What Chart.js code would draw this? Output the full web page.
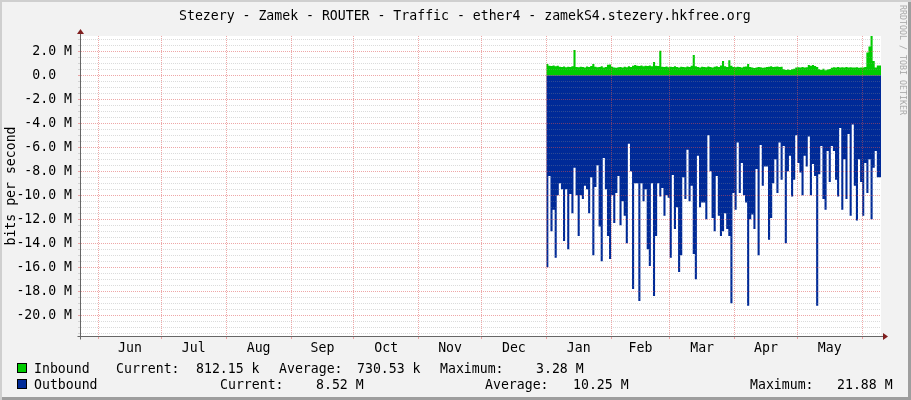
<!DOCTYPE html>
<html lang="en">
<head>
<meta charset="UTF-8">
<title>Stezery - Zamek - ROUTER - Traffic - ether4</title>
<script src="https://cdn.jsdelivr.net/npm/chart.js"></script>
<style>
  body { margin: 0; background: #fff; }
  #graph {
    position: relative; width: 911px; height: 400px; overflow: hidden;
    background: #F2F2F2;
    box-shadow: inset 2px 2px 0 #CFCFCF, inset -3px -3px 0 #9E9E9E;
    font-family: "DejaVu Sans Mono", monospace; font-size: 13.2px; line-height: 13.2px; color: #000;
  }
  #graph canvas { position: absolute; left: 0; top: 0; }
  .txt { position: absolute; white-space: pre; }
  .box { position: absolute; width: 8px; height: 8px; border: 1px solid #000; }
  #mark {
    position: absolute; left: 907px; top: 5px; white-space: pre;
    font-size: 8.3px; line-height: 8.3px; color: #A8A8A8;
    transform-origin: 0 0; transform: rotate(90deg);
  }
</style>
</head>
<body>
<div id="graph">
  <canvas id="chart" width="911" height="400"></canvas>

  <div class="txt" style="left:179px; top:9px;">Stezery - Zamek - ROUTER - Traffic - ether4 - zamekS4.stezery.hkfree.org</div>
  <div id="mark">RRDTOOL / TOBI OETIKER</div>

  <!-- legend -->
  <div class="box" style="left:17px; top:363px; background:#00CC00;"></div>
  <div class="txt" style="left:34px; top:362px;">Inbound</div>
  <div class="txt" style="left:116px; top:362px;">Current:</div>
  <div class="txt" style="left:196px; top:362px;">812.15 k</div>
  <div class="txt" style="left:279px; top:362px;">Average:</div>
  <div class="txt" style="left:357px; top:362px;">730.53 k</div>
  <div class="txt" style="left:440px; top:362px;">Maximum:</div>
  <div class="txt" style="left:536px; top:362px;">3.28 M</div>

  <div class="box" style="left:17px; top:379px; background:#002A97;"></div>
  <div class="txt" style="left:34px; top:378px;">Outbound</div>
  <div class="txt" style="left:220px; top:378px;">Current:</div>
  <div class="txt" style="left:316px; top:378px;">8.52 M</div>
  <div class="txt" style="left:485px; top:378px;">Average:</div>
  <div class="txt" style="left:573px; top:378px;">10.25 M</div>
  <div class="txt" style="left:750px; top:378px;">Maximum:</div>
  <div class="txt" style="left:837px; top:378px;">21.88 M</div>
</div>

<script>
  // x axis is in days counted from 1 Jan (negative = previous year)
  const monthStarts = [-214, -184, -153, -122, -92, -61, -31, 0, 31, 59, 90, 120, 151];
  const monthLabels = ["Jun", "Jul", "Aug", "Sep", "Oct", "Nov", "Dec", "Jan", "Feb", "Mar", "Apr", "May"];
  const xRange = [-222.4, 160.0];
  const yRange = [-21.725, 3.275];   // M bits per second
  const firstDay = 0;                // data starts on 1 Jan

  // daily values, M bits per second
  const inbound = [
    0.55, 0.95, 0.80, 0.78, 0.82, 0.75, 0.80, 0.72, 0.70, 0.74,
    0.68, 0.72, 0.70, 0.76, 2.10, 0.70, 0.68, 0.72, 0.70, 0.66,
    0.74, 0.70, 0.78, 0.95, 0.72, 0.68, 0.70, 0.75, 0.66, 0.70,
    0.88, 0.90, 0.72, 0.66, 0.62, 0.68, 0.70, 0.66, 0.72, 0.68,
    0.75, 0.70, 0.80, 0.85, 0.80, 0.78, 0.82, 0.76, 0.80, 0.78,
    0.82, 0.75, 1.10, 0.80, 0.78, 2.05, 0.72, 0.70, 0.74, 0.68,
    0.72, 0.70, 0.76, 0.70, 0.66, 0.72, 0.70, 0.68, 0.74, 0.70,
    0.80, 1.70, 0.75, 0.70, 0.66, 0.72, 0.70, 0.68, 0.74, 0.70,
    0.66, 0.72, 0.76, 0.70, 0.82, 1.20, 0.75, 0.70, 1.25, 0.80,
    0.70, 0.68, 0.72, 0.70, 0.66, 0.72, 0.74, 0.95, 0.70, 0.66,
    0.60, 0.64, 0.70, 0.68, 0.62, 0.66, 0.70, 0.72, 0.75, 0.70,
    0.72, 0.74, 0.70, 0.72, 0.50, 0.45, 0.48, 0.44, 0.50, 0.55,
    0.66, 0.68, 0.64, 0.70, 0.66, 0.68, 0.85, 0.80, 0.86, 0.78,
    0.70, 0.50, 0.45, 0.55, 0.42, 0.48, 0.52, 0.62, 0.68, 0.66,
    0.70, 0.64, 0.68, 0.66, 0.70, 0.64, 0.68, 0.66, 0.64, 0.68,
    0.62, 0.66, 0.64, 0.70, 1.90, 2.40, 3.28, 1.20, 0.65, 0.81
  ];
  const outbound = [
    9.0, 16.0, 8.4, 13.0, 11.2, 15.2, 10.0, 9.0, 9.5, 13.8,
    9.5, 14.5, 9.9, 11.5, 7.7, 10.0, 13.4, 10.0, 10.3, 9.2,
    9.5, 11.5, 8.5, 15.0, 9.3, 7.5, 12.6, 15.5, 6.9, 9.5,
    13.4, 15.3, 10.0, 12.3, 9.8, 8.4, 12.5, 10.5, 11.7, 14.0,
    5.7, 8.0, 17.8, 9.0, 9.0, 18.8, 9.0, 10.5, 9.5, 14.5,
    15.9, 9.0, 18.4, 13.4, 9.0, 10.1, 9.4, 11.7, 10.0, 10.2,
    15.2, 8.3, 12.8, 11.0, 16.4, 15.0, 8.5, 10.3, 6.2, 10.5,
    9.2, 14.9, 17.0, 6.7, 11.0, 10.6, 10.6, 12.0, 5.0, 8.0,
    11.9, 13.0, 8.4, 11.7, 13.4, 13.0, 11.5, 12.8, 13.4, 19.0,
    9.8, 11.2, 5.6, 9.8, 7.3, 10.0, 10.6, 19.2, 12.0, 11.6,
    12.8, 7.8, 15.0, 5.8, 9.2, 7.6, 7.6, 13.7, 11.9, 9.0,
    7.0, 9.8, 5.6, 8.7, 5.9, 14.0, 8.0, 6.7, 10.1, 8.7,
    5.0, 7.3, 8.1, 10.0, 6.7, 7.6, 5.1, 10.0, 7.4, 8.4,
    19.2, 8.25, 5.9, 10.3, 11.2, 6.3, 8.9, 5.9, 6.3, 8.7,
    10.1, 4.4, 11.2, 7.0, 10.3, 4.9, 11.7, 4.1, 9.2, 12.1,
    7.0, 8.9, 11.7, 7.3, 9.8, 7.0, 12.0, 7.7, 6.3, 8.5
  ];

  const FONT = { family: "'DejaVu Sans Mono', monospace", size: 13.2 };
  const GRID = "rgba(143,143,143,0.32)";
  const MGRID = "rgba(222,79,79,0.5)";

  // one step per day, last step closed at the end of the data
  function steps(values, sign) {
    const pts = values.map((v, i) => ({ x: firstDay + i, y: sign * v }));
    pts.push({ x: firstDay + values.length, y: sign * values[values.length - 1] });
    return pts;
  }

  // white canvas, axis lines and arrows like rrdtool
  const rrdFrame = {
    id: "rrdFrame",
    beforeDraw(chart) {
      const { ctx, chartArea: a } = chart;
      ctx.save();
      ctx.fillStyle = "#FFFFFF";
      ctx.fillRect(a.left, a.top, a.right - a.left, a.bottom - a.top);
      ctx.restore();
    },
    afterDraw(chart) {
      const { ctx, chartArea: a } = chart;
      const x0 = Math.round(a.left) - 0.5;
      const y0 = Math.round(a.bottom) + 0.5;
      ctx.save();
      ctx.strokeStyle = "#666666";
      ctx.lineWidth = 1;
      ctx.beginPath();
      ctx.moveTo(x0 - 3, y0); ctx.lineTo(a.right + 3, y0);
      ctx.moveTo(x0, y0 + 3); ctx.lineTo(x0, a.top - 3);
      ctx.stroke();
      ctx.fillStyle = "#801F1F";
      ctx.beginPath();
      ctx.moveTo(a.right + 7, y0); ctx.lineTo(a.right + 2, y0 - 3.5); ctx.lineTo(a.right + 2, y0 + 3.5);
      ctx.closePath(); ctx.fill();
      ctx.beginPath();
      ctx.moveTo(x0, a.top - 7); ctx.lineTo(x0 - 3.5, a.top - 2); ctx.lineTo(x0 + 3.5, a.top - 2);
      ctx.closePath(); ctx.fill();
      ctx.restore();
    }
  };

  new Chart(document.getElementById("chart"), {
    type: "line",
    data: {
      datasets: [
        {
          label: "Inbound",
          data: steps(inbound, 1),
          stepped: "after",
          fill: "origin",
          backgroundColor: "#00CC00",
          borderColor: "rgba(0,0,0,0)",
          borderWidth: 0,
          pointRadius: 0
        },
        {
          label: "Outbound",
          data: steps(outbound, -1),
          stepped: "after",
          fill: "origin",
          backgroundColor: "#002A97",
          borderColor: "rgba(0,0,0,0)",
          borderWidth: 0,
          pointRadius: 0
        }
      ]
    },
    options: {
      responsive: false,
      devicePixelRatio: 1,
      animation: false,
      events: [],
      layout: { padding: { left: 0, top: 36, right: 30, bottom: 0 } },
      plugins: { legend: { display: false }, tooltip: { enabled: false } },
      scales: {
        x: {
          type: "linear",
          min: xRange[0],
          max: xRange[1],
          afterBuildTicks(scale) {
            const t = monthStarts.map(v => ({ value: v, major: true }));
            monthLabels.forEach((name, i) => {
              t.push({ value: (monthStarts[i] + monthStarts[i + 1]) / 2, name: name });
            });
            t.sort((a, b) => a.value - b.value);
            scale.ticks = t;
          },
          afterFit(scale) { scale.height = 64; },
          grid: {
            z: 1,
            color: c => (c.tick && c.tick.major ? MGRID : "rgba(0,0,0,0)"),
            tickLength: 3
          },
          border: { display: false, dash: [1, 1] },
          ticks: {
            autoSkip: false,
            maxRotation: 0,
            padding: 2,
            color: "#000",
            font: FONT,
            callback: (v, i, t) => t[i].name || ""
          }
        },
        y: {
          min: yRange[0],
          max: yRange[1],
          afterBuildTicks(scale) {
            const t = [];
            for (let v = -21.5; v <= 3.0; v += 0.5) t.push({ value: v });
            scale.ticks = t;
          },
          afterFit(scale) { scale.width = 81; },
          grid: {
            z: 1,
            color: c => (c.tick && c.tick.value % 2 === 0 ? MGRID : GRID),
            tickLength: 3
          },
          border: { display: false, dash: [1, 1] },
          ticks: {
            autoSkip: false,
            padding: 6,
            color: "#000",
            font: FONT,
            callback: v => (v % 2 === 0 ? (v === 0 ? "0.0  " : v.toFixed(1) + " M") : "")
          },
          title: {
            display: true,
            text: "bits per second",
            color: "#000",
            font: FONT,
            padding: { top: 4, bottom: 0 }
          }
        }
      }
    },
    plugins: [rrdFrame]
  });
</script>
</body>
</html>
